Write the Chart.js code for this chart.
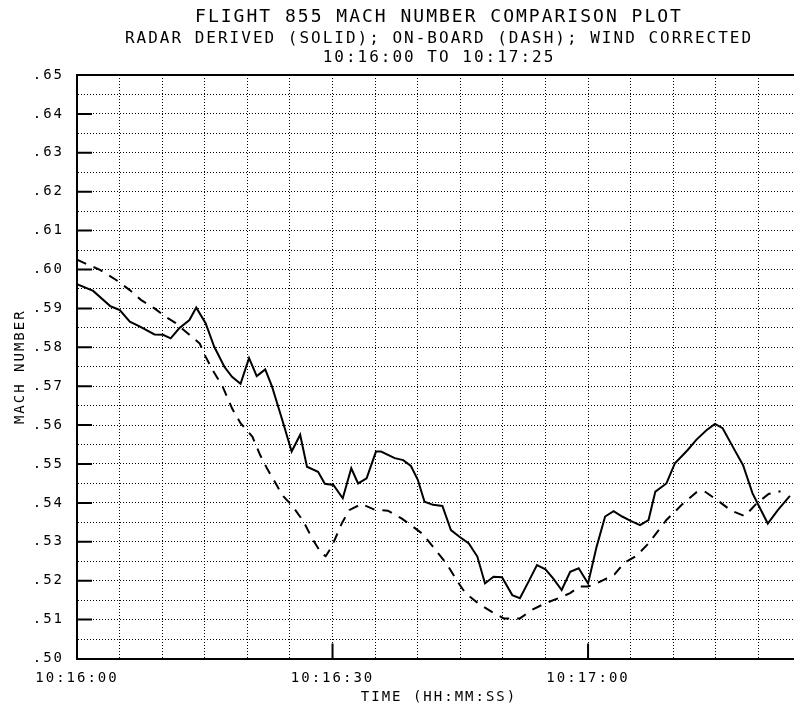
<!DOCTYPE html>
<html>
<head>
<meta charset="utf-8">
<script src="https://cdn.jsdelivr.net/npm/chart.js@4"></script>
<style>
  html, body { margin: 0; padding: 0; background: #fff; overflow: hidden; }
  #wrap { width: 794px; height: 707px; overflow: hidden; }
</style>
</head>
<body>
<div id="wrap"><canvas id="machChart" width="812" height="707"></canvas></div>
<script>
// seconds after 10:16:00
const solidTimes = [0, 1.9, 3.9, 5.0, 6.2, 7.4, 9.1, 10.1, 11.0, 12.0, 13.2, 14.0, 15.1, 16.1, 17.3, 18.2, 19.2,
    20.2, 21.1, 22.1, 22.9, 24.1, 25.2, 26.2, 27.0, 28.3, 29.1, 30.1, 31.2, 32.2, 33.0, 34.0, 35.1, 35.7,
    37.3, 38.3, 39.2, 40.0, 40.8, 41.8, 42.9, 43.9, 44.9, 46.0, 47.0, 47.9, 48.9, 49.9, 51.1, 52.0, 53.0,
    54.0, 55.0, 55.9, 56.9, 57.9, 58.9, 60.0, 61.0, 62.0, 63.0, 64.0, 65.0, 66.1, 67.1, 67.9, 69.2, 70.2,
    71.7, 72.7, 73.9, 74.9, 75.8, 77.0, 78.2, 79.3, 80.1, 81.1, 82.3, 83.7];
const solidMach = [.5962, .5945, .5906, .5896, .5866, .5853, .5833, .5832, .5823, .5849, .5870, .5902, .5862,
    .5802, .5750, .5724, .5706, .5772, .5726, .5743, .5699, .5613, .5532, .5575, .5493, .5480, .5449, .5446,
    .5412, .5489, .5450, .5463, .5532, .5532, .5515, .5510, .5495, .5460, .5403, .5395, .5392, .5330, .5313,
    .5296, .5262, .5193, .5210, .5209, .5163, .5155, .5197, .5240, .5229, .5206, .5176, .5223, .5232, .5193,
    .5287, .5365, .5379, .5365, .5354, .5343, .5356, .5429, .5450, .5502, .5536, .5562, .5587, .5603, .5592,
    .5544, .5497, .5425, .5390, .5347, .5382, .5418];

const dashTimes = [0, 2.7, 4.6, 6.2, 7.5, 9.1, 10.5, 11.6, 13.2, 14.4, 15.1, 15.9, 17.1, 18.2, 19.2, 20.6,
    21.5, 22.3, 23.1, 24.1, 25.3, 26.6, 27.6, 28.7, 29.2, 29.9, 31.1, 32.0, 33.4, 35.0, 36.5, 38.1, 39.2,
    40.6, 42.1, 43.5, 44.7, 45.6, 47.2, 48.7, 50.1, 52.0, 53.4, 55.0, 56.5, 57.9, 59.0, 60.0, 61.0, 62.2,
    63.1, 64.2, 65.7, 67.1, 69.2, 71.0, 72.7, 73.6, 75.3, 76.8, 78.4, 79.8, 81.2, 82.6];
const dashMach = [.6025, .5999, .5973, .5947, .5922, .5900, .5877, .5862, .5832, .5810, .5776, .5742, .5699,
    .5643, .5605, .5570, .5523, .5489, .5459, .5420, .5392, .5352, .5309, .5270, .5263, .5287, .5348, .5382,
    .5397, .5382, .5380, .5360, .5343, .5320, .5279, .5240, .5197, .5168, .5140, .5120, .5103, .5103, .5125,
    .5142, .5155, .5168, .5185, .5185, .5193, .5206, .5216, .5245, .5264, .5296, .5356, .5395, .5427, .5431,
    .5405, .5380, .5366, .5399, .5423, .5430];

const timeTickValues = [0, 30, 60];
const timeTickLabels = ['10:16:00', '10:16:30', '10:17:00'];
const titleLines = ['FLIGHT 855 MACH NUMBER COMPARISON PLOT'];
const subtitleLines = ['RADAR DERIVED (SOLID); ON-BOARD (DASH); WIND CORRECTED', '10:16:00 TO 10:17:25'];

const plotFont = 'DejaVu Sans Mono';

// plotter lettering is wide, so space the letters out
const letterSpacing = {
    id: 'letterSpacing',
    beforeDraw(chart) {
        chart.ctx.letterSpacing = '2px';
    }
};

// solid frame on top + short solid ticks inside the plot
const frameTicks = {
    id: 'frameTicks',
    afterDatasetsDraw(chart) {
        const { ctx, chartArea: a, scales } = chart;
        ctx.save();
        ctx.strokeStyle = '#000';
        ctx.lineWidth = 2;
        ctx.beginPath();
        ctx.moveTo(a.left, a.top);
        ctx.lineTo(a.right, a.top);
        for (let k = 51; k <= 64; k++) {
            const y = scales.y.getPixelForValue(k / 100);
            ctx.moveTo(a.left, y);
            ctx.lineTo(a.left + 15, y);
        }
        timeTickValues.slice(1).forEach(t => {
            const x = scales.x.getPixelForValue(t);
            ctx.moveTo(x, a.bottom);
            ctx.lineTo(x, a.bottom - 15);
        });
        ctx.stroke();
        ctx.restore();
    }
};

const ctx = document.getElementById('machChart').getContext('2d');
new Chart(ctx, {
    type: 'line',
    data: {
        datasets: [{
            label: 'Radar derived',
            data: solidTimes.map((t, i) => ({ x: t, y: solidMach[i] })),
            borderColor: '#000',
            borderWidth: 2,
            pointRadius: 0,
            tension: 0
        }, {
            label: 'On-board',
            data: dashTimes.map((t, i) => ({ x: t, y: dashMach[i] })),
            borderColor: '#000',
            borderWidth: 2,
            borderDash: [10, 8],
            pointRadius: 0,
            tension: 0
        }]
    },
    options: {
        responsive: false,
        animation: false,
        devicePixelRatio: 1,
        layout: { padding: { left: 0, right: 6, top: 0, bottom: 0 } },
        plugins: {
            legend: { display: false },
            tooltip: { enabled: false },
            title: {
                display: true,
                fullSize: false,
                text: titleLines,
                color: '#000',
                font: { family: plotFont, size: 18, weight: 'normal', lineHeight: '20px' },
                padding: { top: 7.5, bottom: 0 }
            },
            subtitle: {
                display: true,
                fullSize: false,
                text: subtitleLines,
                color: '#000',
                font: { family: plotFont, size: 16, weight: 'normal', lineHeight: '19.5px' },
                padding: { top: 1.25, bottom: 7.25 }
            }
        },
        scales: {
            x: {
                type: 'linear',
                min: 0,
                max: 85,
                afterFit: s => { s.height = 48.5; },
                ticks: {
                    stepSize: 5,
                    autoSkip: false,
                    maxRotation: 0,
                    padding: 11,
                    color: '#000',
                    font: { family: plotFont, size: 14 },
                    callback: v => {
                        const i = timeTickValues.indexOf(v);
                        return i >= 0 ? timeTickLabels[i] : '';
                    }
                },
                grid: { color: '#000', lineWidth: 1, drawTicks: false },
                border: { display: true, color: '#000', width: 2, dash: [1, 2] },
                title: {
                    display: true,
                    text: 'TIME (HH:MM:SS)',
                    color: '#000',
                    font: { family: plotFont, size: 14 },
                    padding: { top: 2, bottom: 1.6 }
                }
            },
            y: {
                min: 0.5,
                max: 0.65,
                afterFit: s => { s.width = 77; },
                ticks: {
                    stepSize: 0.005,
                    autoSkip: false,
                    padding: 13,
                    color: '#000',
                    font: { family: plotFont, size: 14 },
                    callback: v => {
                        const k = Math.round(v * 1000);
                        return k % 10 === 0 ? '.' + (k / 10) : '';
                    }
                },
                grid: { color: '#000', lineWidth: 1, drawTicks: false },
                border: { display: true, color: '#000', width: 2, dash: [1, 2] },
                title: {
                    display: true,
                    text: 'MACH NUMBER',
                    color: '#000',
                    font: { family: plotFont, size: 14 },
                    padding: { top: 11.6, bottom: 2 }
                }
            }
        }
    },
    plugins: [letterSpacing, frameTicks]
});
</script>
</body>
</html>
